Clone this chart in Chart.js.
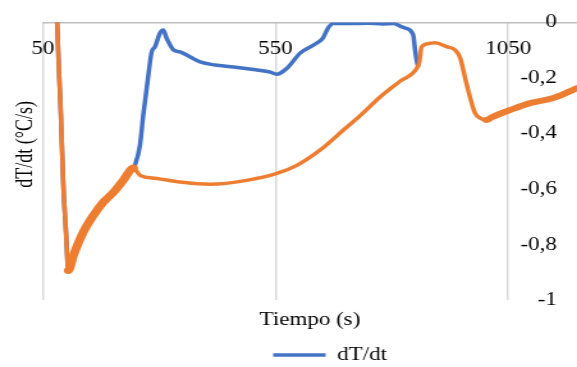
<!DOCTYPE html>
<html><head><meta charset="utf-8">
<script src="https://cdn.jsdelivr.net/npm/chart.js@4.4.1/dist/chart.umd.min.js"></script>
<style>
html,body{margin:0;padding:0;background:#fff;overflow:hidden}
#c{display:block;transform:scaleX(1.2794);transform-origin:0 0}
</style>
</head><body>
<canvas id="c" width="451" height="367"></canvas>
<script>
// ---- data ----
const xTickValues = [50, 550, 1050];
const yTickValues = [0, -0.2, -0.4, -0.6, -0.8, -1];

const seriesLabel = 'dT/dt';
const xTitle = 'Tiempo (s)';
const yTitle = 'dT/dt (°C/s)';

const timeBlue = [80, 84, 89, 94, 100, 105, 116, 137, 159, 180, 202, 223, 245,
  248, 259, 266, 277, 284, 291, 302, 309, 316, 331, 345, 367, 388, 420, 460, 511, 538, 553,
  575, 603, 639, 652, 663, 674, 700, 750, 780, 803, 818, 829, 846, 850, 854, 857];
const dTdtBlue = [0.045, -0.135, -0.333, -0.575, -0.755, -0.892, -0.838, -0.755, -0.694, -0.647, -0.611, -0.568, -0.524,
  -0.514, -0.441, -0.333, -0.189, -0.106, -0.088, -0.038, -0.027, -0.056, -0.099, -0.106, -0.124, -0.142, -0.153, -0.160, -0.171, -0.178, -0.186,
  -0.164, -0.110, -0.074, -0.056, -0.020, -0.004, -0.004, -0.003, -0.005, -0.004, -0.013, -0.020, -0.045, -0.099, -0.142, -0.160];

const timeOrange = [80, 84, 89, 94, 100, 105, 116, 137, 159, 180, 202, 223, 245,
  259, 295, 345, 410, 488, 553, 596, 646, 696, 732, 775, 818, 854, 859, 864, 882, 893, 918, 936,
  947, 957, 968, 979, 990, 1003, 1015, 1054, 1097, 1147, 1198];
const dTdtOrange = [0.045, -0.135, -0.333, -0.575, -0.755, -0.892, -0.838, -0.755, -0.694, -0.647, -0.611, -0.568, -0.524,
  -0.550, -0.561, -0.574, -0.582, -0.568, -0.543, -0.514, -0.459, -0.387, -0.335, -0.268, -0.211, -0.164, -0.142, -0.088, -0.075, -0.073, -0.087, -0.099,
  -0.128, -0.196, -0.268, -0.326, -0.344, -0.351, -0.341, -0.315, -0.290, -0.272, -0.236];

// ---- chart ----
const font = {family: "'Liberation Serif','Times New Roman',serif", size: 18};
const toXY = (xs, ys) => xs.map((x, i) => ({x: x, y: ys[i]}));
const fmt = v => (v === 0 ? '0' : String(v).replace('.', ','));
const setX = s => { s.ticks = xTickValues.map(v => ({value: v})); };
const setY = s => { s.ticks = yTickValues.map(v => ({value: v})); };

// thicker stroke where the measured signal is noisy (a wide band in the picture)
const orangeWidth = ctx => {
  const x0 = ctx.p0.parsed.x;
  if (x0 >= 105 && x0 < 245) return 7;
  if (x0 >= 1003) return 6;
  return 3.5;
};

const nudge = {
  id: 'nudge',
  afterLayout(chart) {
    const lg = chart.legend;
    lg.left += 32.5; lg.right += 32.5;
    lg.top += 7; lg.bottom += 7;
    chart.scales.yTitle.bottom -= 34;
  }
};

new Chart(document.getElementById('c'), {
  type: 'line',
  data: {
    datasets: [
      {label: 'Base', data: toXY(timeOrange, dTdtOrange), borderColor: '#ED7D31', backgroundColor: '#ED7D31',
       borderWidth: 3.5, pointRadius: 0, cubicInterpolationMode: 'monotone', order: 0,
       borderCapStyle: 'round', borderJoinStyle: 'round',
       segment: {borderWidth: orangeWidth}},
      {label: seriesLabel, data: toXY(timeBlue, dTdtBlue), borderColor: '#4472C4', backgroundColor: '#4472C4',
       borderWidth: 3.5, pointRadius: 0, cubicInterpolationMode: 'monotone', order: 1}
    ]
  },
  options: {
    responsive: false,
    animation: false,
    devicePixelRatio: 1,
    layout: {padding: {top: 22.5, left: 0, right: 0, bottom: 0}},
    plugins: {
      tooltip: {enabled: false},
      legend: {
        position: 'bottom',
        labels: {
          font: font, color: '#000', padding: 3,
          usePointStyle: true, pointStyle: 'line', pointStyleWidth: 41,
          filter: item => item.text === seriesLabel
        }
      }
    },
    scales: {
      x: {
        type: 'linear', position: 'bottom', min: 50, max: 1198,
        afterBuildTicks: setX,
        ticks: {display: false},
        grid: {color: '#d9d9d9', lineWidth: 1.5, drawTicks: false},
        border: {display: false},
        title: {display: true, text: xTitle, font: font, color: '#000', padding: {top: 9, bottom: 5}}
      },
      x2: {
        type: 'linear', axis: 'x', position: {y: 0}, min: 50, max: 1198,
        afterBuildTicks: setX,
        ticks: {font: font, color: '#000', padding: 16, maxRotation: 0, callback: v => String(v)},
        grid: {display: false, drawTicks: false},
        border: {display: true, color: '#bfbfbf', width: 1.5}
      },
      y: {
        type: 'linear', position: {x: 1155}, min: -1, max: 0,
        afterBuildTicks: setY,
        ticks: {font: font, color: '#000', padding: 0, callback: v => fmt(v)},
        grid: {display: false, drawTicks: false},
        border: {display: false}
      },
      yTitle: {
        type: 'linear', axis: 'y', position: 'left', min: -1, max: 0,
        ticks: {display: false},
        grid: {display: false, drawTicks: false},
        border: {display: false},
        title: {display: true, text: yTitle, font: font, color: '#000', padding: {top: 9.5, bottom: 2.3}}
      }
    }
  },
  plugins: [nudge]
});
</script>
</body></html>
